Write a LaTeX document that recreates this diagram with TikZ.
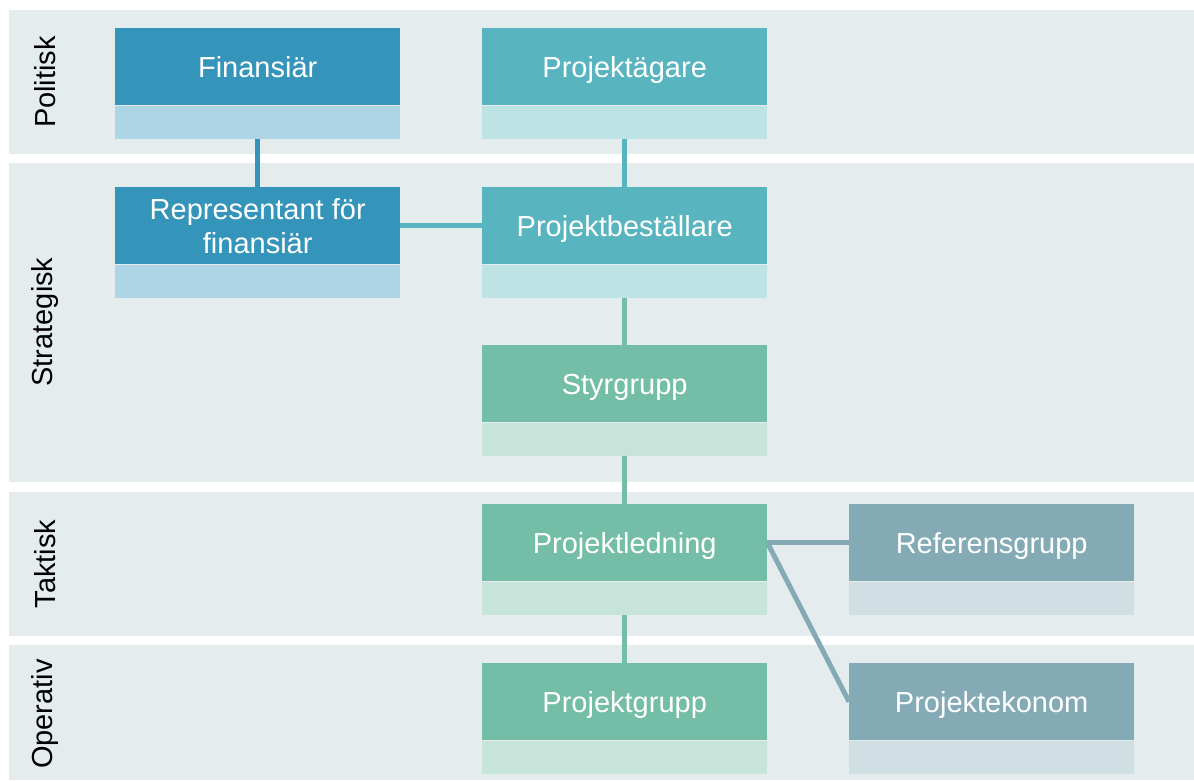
\documentclass[tikz,border=0pt]{standalone}
\usepackage{fontspec}
\setmainfont{Liberation Sans}
\definecolor{bandbg}{HTML}{E5ECEE}
\definecolor{blueD}{HTML}{3594BA}
\definecolor{blueL}{HTML}{ADD5E6}
\definecolor{tealD}{HTML}{58B5C0}
\definecolor{tealL}{HTML}{BDE3E5}
\definecolor{greenD}{HTML}{74BDA6}
\definecolor{greenL}{HTML}{C7E4DA}
\definecolor{greyD}{HTML}{84ABB5}
\definecolor{greyL}{HTML}{CFDFE3}
\begin{document}
\begin{tikzpicture}[x=1pt,y=-1pt,
  band/.style={fill=bandbg,draw=none},
  bandlabel/.style={rotate=90,font=\fontsize{29}{34}\selectfont,text=black,inner sep=0},
  darkbox/.style={draw=none,anchor=north west,minimum width=285,minimum height=77,inner sep=0,
     text=white,font=\fontsize{29}{34}\selectfont,align=center},
  oneline/.style={text height=21pt,text depth=0pt},
  lightbox/.style={draw=none,anchor=north,minimum width=285,minimum height=33,inner sep=0},
  conn/.style={line width=5pt}
]
\useasboundingbox (0,0) rectangle (1194,780);
\fill[white] (0,0) rectangle (1194,780);
% bands
\fill[band] (9,10) rectangle (1194,154);
\fill[band] (9,163) rectangle (1194,482);
\fill[band] (9,492) rectangle (1194,636);
\fill[band] (9,645) rectangle (1194,780);
\node[bandlabel] (lp) at (45,82) {Politisk};
\node[bandlabel] (ls) at (45,322) {Strategisk};
\node[bandlabel] (lt) at (45,564) {Taktisk};
\node[bandlabel] (lo) at (45,714) {Operativ};
% boxes
\node[darkbox,oneline,fill=blueD] (fin) at (115,28) {Finansiär};
\node[lightbox,fill=blueL] (finL) at (fin.south) {};
\node[darkbox,fill=blueD] (rep) at (115,187) {Representant för\\finansiär};
\node[lightbox,fill=blueL] (repL) at (rep.south) {};
\node[darkbox,oneline,fill=tealD] (pag) at (482,28) {Projektägare};
\node[lightbox,fill=tealL] (pagL) at (pag.south) {};
\node[darkbox,oneline,fill=tealD] (pb) at (482,187) {Projektbeställare};
\node[lightbox,fill=tealL] (pbL) at (pb.south) {};
\node[darkbox,oneline,fill=greenD] (sty) at (482,345) {Styrgrupp};
\node[lightbox,fill=greenL] (styL) at (sty.south) {};
\node[darkbox,oneline,fill=greenD] (pl) at (482,504) {Projektledning};
\node[lightbox,fill=greenL] (plL) at (pl.south) {};
\node[darkbox,oneline,fill=greenD] (pg) at (482,663) {Projektgrupp};
\node[lightbox,fill=greenL] (pgL) at (pg.south) {};
\node[darkbox,oneline,fill=greyD] (ref) at (849,504) {Referensgrupp};
\node[lightbox,fill=greyL] (refL) at (ref.south) {};
\node[darkbox,oneline,fill=greyD] (pek) at (849,663) {Projektekonom};
\node[lightbox,fill=greyL] (pekL) at (pek.south) {};
% connectors
\draw[conn,blueD] (finL.south) -- (rep.north);
\draw[conn,tealD] (pagL.south) -- (pb.north);
\draw[conn,tealD] (rep.east) -- (pb.west);
\draw[conn,greenD] (pbL.south) -- (sty.north);
\draw[conn,greenD] (styL.south) -- (pl.north);
\draw[conn,greenD] (plL.south) -- (pg.north);
\draw[conn,greyD] (pl.east) -- (ref.west);
\draw[conn,greyD] (pl.east) -- (pek.west);
\end{tikzpicture}
\end{document}
